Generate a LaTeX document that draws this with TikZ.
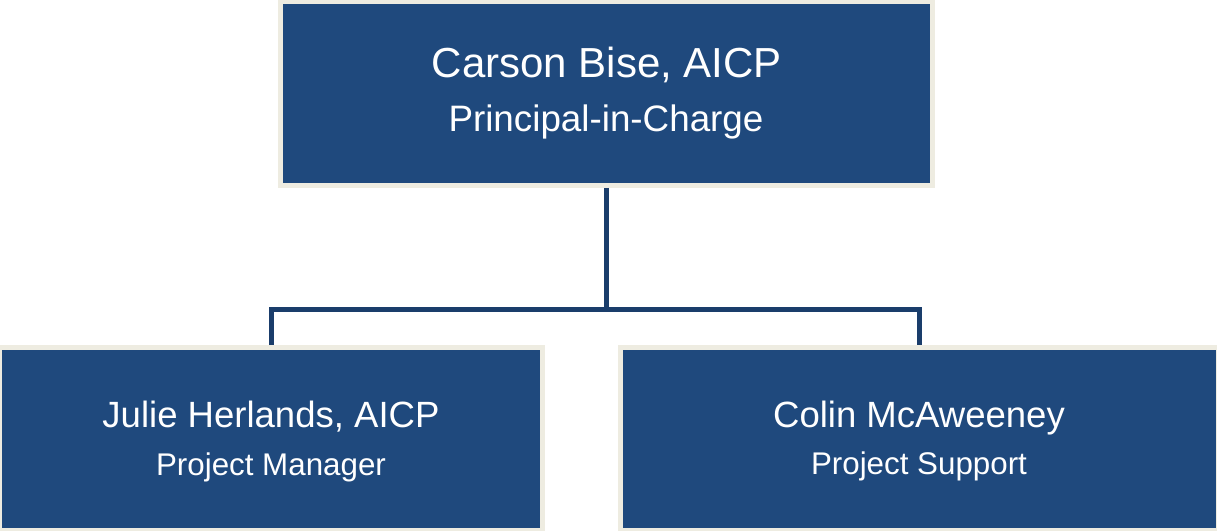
\documentclass[tikz,border=0pt]{standalone}
\usepackage{fontspec}
\setmainfont{Liberation Sans}
\definecolor{boxblue}{HTML}{1F497D}
\definecolor{boxrim}{HTML}{EEECE1}
\definecolor{linkblue}{HTML}{1A3D6B}
\begin{document}
\begin{tikzpicture}[x=0.75pt,y=-0.75pt,
  card/.style={rectangle,fill=boxblue,draw=boxrim,line width=3.75pt,inner sep=0pt},
  link/.style={draw=linkblue,line width=3.75pt},
  bigname/.style={anchor=base,text=white,inner sep=0pt,font=\fontsize{31.5pt}{36pt}\selectfont},
  bigrole/.style={anchor=base,text=white,inner sep=0pt,font=\fontsize{27.6pt}{32pt}\selectfont},
  pname/.style={anchor=base,text=white,inner sep=0pt,font=\fontsize{27.4pt}{32pt}\selectfont},
  prole/.style={anchor=base,text=white,inner sep=0pt,font=\fontsize{23.5pt}{28pt}\selectfont}]
\useasboundingbox (0,0) rectangle (1217,531);
\node[card,minimum width=489pt,minimum height=138pt] (top) at (606.5,93.5) {};
\node[card,minimum width=407.25pt,minimum height=137.25pt] (left) at (271,439) {};
\node[card,minimum width=448.5pt,minimum height=137.25pt] (right) at (919.5,439) {};
\coordinate (j) at (606.5,309);
\draw[link] (top.south) -- (j);
\draw[link] (left.north) |- (j) -| (right.north);
\node[bigname] (n1) at (607,78) {Carson Bise, AICP};
\node[bigrole] (r1) at (606,132) {Principal-in-Charge};
\node[pname] (n2) at (271,427) {Julie Herlands, AICP};
\node[prole] (r2) at (271,475) {Project Manager};
\node[pname] (n3) at (919,427) {Colin McAweeney};
\node[prole] (r3) at (919,474) {Project Support};
\end{tikzpicture}
\end{document}
